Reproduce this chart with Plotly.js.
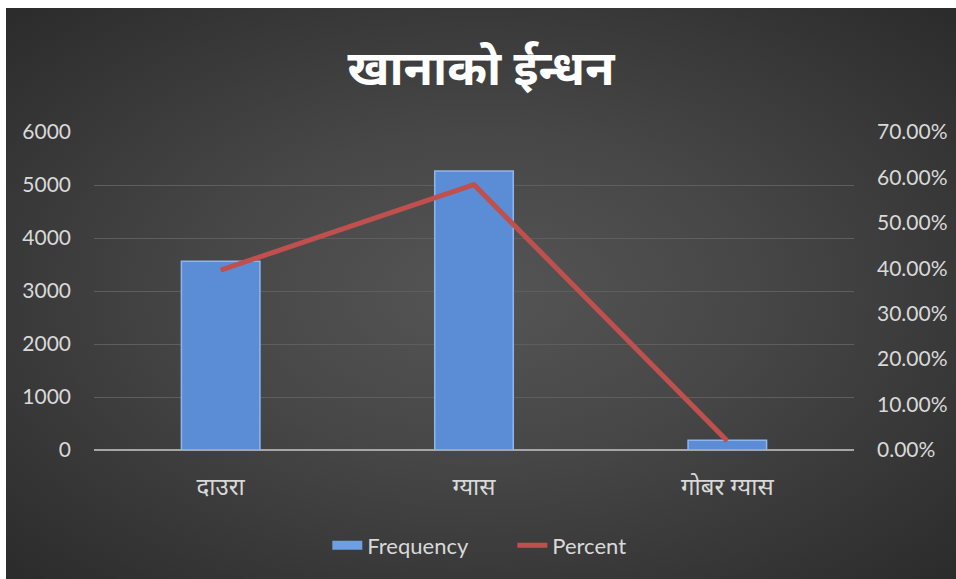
<!DOCTYPE html>
<html>
<head>
<meta charset="utf-8">
<script src="https://cdn.plot.ly/plotly-3.0.1.min.js"></script>
<style>
  html, body { margin: 0; padding: 0; background: #ffffff; width: 956px; height: 579px; overflow: hidden; }
  #chart {
    position: absolute; left: 6px; top: 8px; width: 950px; height: 571px;
    background: radial-gradient(ellipse at 50% 50%, #555555 0%, #474747 40%, #2b2b2b 100%);
  }
</style>
</head>
<body>
<div id="chart"></div>
<script>
const categories = ["दाउरा", "ग्यास", "गोबर ग्यास"];
const frequency = [3560, 5265, 185];
const percent = [0.396, 0.584, 0.020];
const chartTitle = "खानाको ईन्धन";
const seriesNames = ["Frequency", "Percent"];

const font = "Lato, 'Noto Sans', 'DejaVu Sans', sans-serif";
const devFont = "'Noto Sans', 'DejaVu Sans', sans-serif";

const traces = [
  {
    type: "bar",
    name: seriesNames[0],
    x: categories,
    y: frequency,
    marker: { color: "#5b8dd6", line: { color: "#8fb6ec", width: 1.5 } },
    width: 0.31,
    yaxis: "y",
    showlegend: false
  },
  {
    // legend entry for the bar series (drawn as a wide bar swatch, like the reference)
    type: "scatter",
    mode: "lines",
    name: seriesNames[0],
    x: categories,
    y: frequency,
    line: { color: "#6d9fe2", width: 9 },
    yaxis: "y3",
    showlegend: true
  },
  {
    type: "scatter",
    mode: "lines",
    name: seriesNames[1],
    x: categories,
    y: percent,
    line: { color: "#c0504d", width: 5 },
    yaxis: "y2"
  }
];

const layout = {
  width: 950,
  height: 571,
  paper_bgcolor: "rgba(0,0,0,0)",
  plot_bgcolor: "rgba(0,0,0,0)",
  margin: { l: 88, r: 102, t: 124, b: 129 },
  title: {
    text: "<b>" + chartTitle + "</b>",
    font: { family: devFont, size: 48, color: "#ffffff" },
    x: 0.5, xanchor: "center",
    y: 0.895, yanchor: "middle"
  },
  font: { family: font, size: 21, color: "#d9d9d9" },
  showlegend: true,
  legend: {
    orientation: "h",
    x: 0.307, xanchor: "left",
    y: -0.30, yanchor: "middle",
    font: { family: font, size: 22, color: "#d9d9d9" },
    traceorder: "normal",
    itemwidth: 30,
    entrywidth: 140,
    entrywidthmode: "pixels"
  },
  xaxis: {
    type: "category",
    showgrid: false,
    showline: false,
    zeroline: false,
    ticks: "",
    tickfont: { family: devFont, size: 24, color: "#d9d9d9" },
    ticklabelstandoff: 20
  },
  yaxis: {
    range: [0, 6000],
    dtick: 1000,
    tickformat: "d",
    showgrid: true,
    gridcolor: "#5e5e5e",
    gridwidth: 1,
    zeroline: true,
    zerolinecolor: "#a6a6a6",
    zerolinewidth: 2,
    showline: false,
    ticks: "",
    ticklabelstandoff: 22,
    tickfont: { family: font, size: 21, color: "#d9d9d9" }
  },
  yaxis2: {
    overlaying: "y",
    side: "right",
    range: [0, 0.70],
    dtick: 0.10,
    tickformat: ".2%",
    showgrid: false,
    zeroline: false,
    showline: false,
    ticks: "",
    ticklabelstandoff: 22,
    tickfont: { family: font, size: 21, color: "#d9d9d9" }
  },
  yaxis3: {
    overlaying: "y",
    visible: false,
    range: [-2, -1]
  },
  bargap: 0.69,
  hovermode: false
};

Plotly.newPlot("chart", traces, layout, { displayModeBar: false, staticPlot: true });
</script>
</body>
</html>
